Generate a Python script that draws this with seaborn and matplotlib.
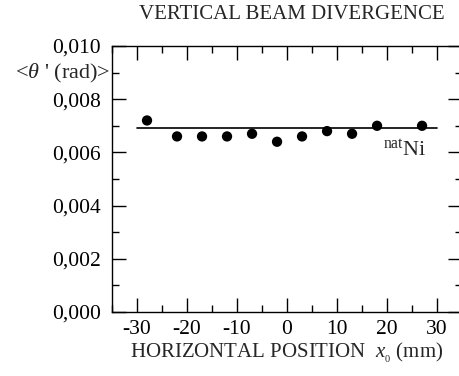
import matplotlib
matplotlib.use("Agg")
import matplotlib.pyplot as plt
from matplotlib.ticker import MultipleLocator, FuncFormatter
import seaborn as sns
import pandas as pd

# Measured mean vertical divergence versus horizontal beam position
positions_mm = [-28, -22, -17, -12, -7, -2, 3, 8, 13, 18, 27]
divergence_rad = [0.0072, 0.0066, 0.0066, 0.0066, 0.0067, 0.0064,
                  0.0066, 0.0068, 0.0067, 0.0070, 0.0070]

# Average level drawn across the scanned range
fit_x = [-30, 30]
fit_level = 0.0069

title = "VERTICAL BEAM DIVERGENCE"
x_label = r"HORIZONTAL POSITION  $x_{_0}$ (mm)"
y_label = r"<$\theta$ ' (rad)>"
sample_label = r"$^{\rm nat}$Ni"

sns.set_theme(style="ticks")
plt.rcParams["font.family"] = ["Liberation Serif", "DejaVu Serif"]
plt.rcParams["mathtext.fontset"] = "custom"
plt.rcParams["mathtext.rm"] = "Liberation Serif"
plt.rcParams["mathtext.it"] = "Liberation Serif:italic"

df = pd.DataFrame({"x": positions_mm, "y": divergence_rad})
fit_df = pd.DataFrame({"x": fit_x, "y": [fit_level] * len(fit_x)})

fig = plt.figure(figsize=(4.6, 3.76), dpi=100)
ax = fig.add_axes([0.2435, 0.1702, 0.761, 0.7075])

sns.lineplot(data=fit_df, x="x", y="y", color="black", linewidth=1.2, ax=ax)
sns.scatterplot(data=df, x="x", y="y", color="black", s=55,
                edgecolor="none", ax=ax, zorder=3)

ax.set_xlim(-35, 35)
ax.set_ylim(0.0, 0.010)
ax.xaxis.set_major_locator(MultipleLocator(10))
ax.xaxis.set_minor_locator(MultipleLocator(5))
ax.yaxis.set_major_locator(MultipleLocator(0.002))
ax.yaxis.set_minor_locator(MultipleLocator(0.001))
ax.yaxis.set_major_formatter(FuncFormatter(lambda v, p: f"{v:.3f}".replace(".", ",")))
ax.xaxis.set_major_formatter(FuncFormatter(lambda v, p: f"{v:.0f}"))

for side in ["top", "right", "left", "bottom"]:
    ax.spines[side].set_visible(True)
    ax.spines[side].set_linewidth(1.0)
    ax.spines[side].set_color("black")

ax.tick_params(which="both", direction="in", top=True, right=True,
               colors="black", labelsize=15.5, width=1.0)
ax.tick_params(which="major", length=10, pad=6)
ax.tick_params(which="major", axis="y", pad=8)
ax.tick_params(which="minor", length=5)

ax.set_xlabel(x_label, fontsize=15, labelpad=1)
ax.set_ylabel("")
fig.text(0.240, 0.805, y_label, ha="right", va="center", fontsize=16)

fig.text(0.634, 0.962, title, ha="center", va="center", fontsize=15)

ax.text(23.6, 0.0061, sample_label, ha="center", va="center", fontsize=16)

fig.savefig("out.png", dpi=100)
